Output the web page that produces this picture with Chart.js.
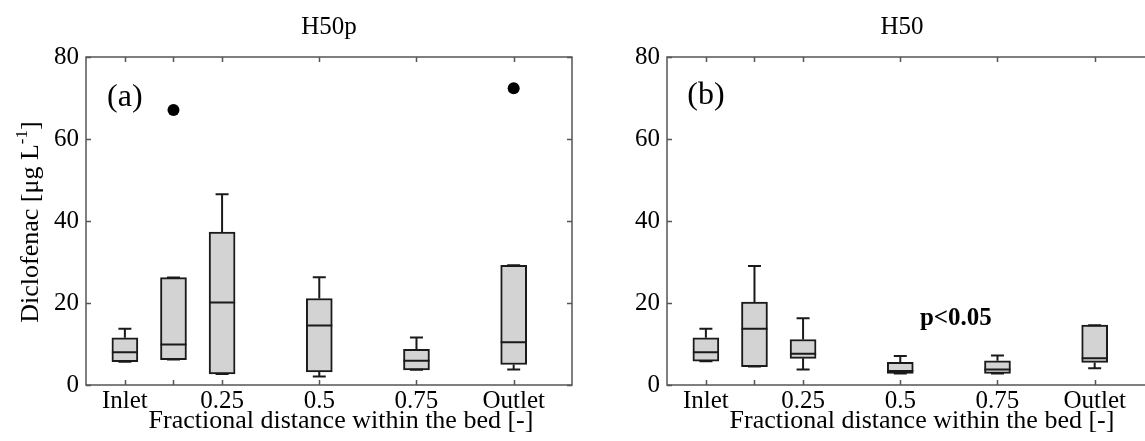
<!DOCTYPE html>
<html>
<head>
<meta charset="utf-8">
<script src="https://cdn.jsdelivr.net/npm/chart.js@4.4.1/dist/chart.umd.min.js"></script>
<style>
  html, body { margin: 0; padding: 0; width: 1145px; height: 441px; overflow: hidden; background: #fff; }
  #wrap { position: relative; width: 1145px; height: 441px; overflow: hidden; }
  canvas { position: absolute; top: 0; }
</style>
</head>
<body>
<div id="wrap">
  <canvas id="chartA" width="600" height="441" style="left:0px"></canvas>
  <canvas id="chartB" width="600" height="441" style="left:580px"></canvas>
</div>
<script>
// ---------- data ----------
const positions   = [0, 0.125, 0.25, 0.5, 0.75, 1];
const xTickLabels = ['Inlet', '', '0.25', '0.5', '0.75', 'Outlet'];
const yTickValues = [0, 20, 40, 60, 80];

// Panel (a) H50p
const lowA  = [5.7, 6.2, 2.7, 2.1, 3.7, 3.8];
const q1A   = [5.7, 6.2, 2.7, 3.2, 3.7, 5.0];
const medA  = [8.0, 9.9, 20.1, 14.5, 5.9, 10.4];
const q3A   = [11.5, 26.2, 37.3, 21.1, 8.7, 29.2];
const highA = [13.7, 26.2, 46.5, 26.3, 11.6, 29.2];
const outX_A = [0.125, 1];
const outY_A = [67.1, 72.4];

// Panel (b) H50
const lowB  = [5.8, 4.5, 3.8, 2.8, 2.8, 4.1];
const q1B   = [5.8, 4.5, 6.5, 2.8, 2.8, 5.5];
const medB  = [8.0, 13.7, 7.6, 3.4, 3.8, 6.5];
const q3B   = [11.5, 20.2, 11.1, 5.5, 5.9, 14.6];
const highB = [13.7, 29.0, 16.3, 7.1, 7.2, 14.6];
const outX_B = [];
const outY_B = [];

const FONT = "'Liberation Serif', 'Times New Roman', serif";
const BOX_W = 26;

const boxExtras = {
  id: 'boxExtras',
  afterDatasetsDraw(chart, args, o) {
    const ctx = chart.ctx, xs = chart.scales.x, ys = chart.scales.y;
    ctx.save();
    ctx.strokeStyle = '#1a1a1a';
    ctx.lineWidth = 2;
    ctx.lineCap = 'butt';
    for (let i = 0; i < positions.length; i++) {
      const px = xs.getPixelForValue(positions[i]);
      const half = BOX_W / 2, cap = BOX_W / 4;
      const yLow = ys.getPixelForValue(o.low[i]), yQ1 = ys.getPixelForValue(o.q1[i]);
      const yMed = ys.getPixelForValue(o.med[i]), yQ3 = ys.getPixelForValue(o.q3[i]);
      const yHigh = ys.getPixelForValue(o.high[i]);
      ctx.beginPath();
      ctx.moveTo(px - half, yMed); ctx.lineTo(px + half, yMed);
      if (o.high[i] > o.q3[i]) { ctx.moveTo(px, yQ3); ctx.lineTo(px, yHigh); }
      ctx.moveTo(px - cap, yHigh); ctx.lineTo(px + cap, yHigh);
      if (o.low[i] < o.q1[i]) { ctx.moveTo(px, yQ1); ctx.lineTo(px, yLow); }
      ctx.moveTo(px - cap, yLow); ctx.lineTo(px + cap, yLow);
      ctx.stroke();
    }
    ctx.restore();
  },
  afterDraw(chart, args, o) {
    const ctx = chart.ctx, xs = chart.scales.x, ys = chart.scales.y, a = chart.chartArea;
    ctx.save();
    ctx.strokeStyle = '#555';
    ctx.lineWidth = 1.5;
    ctx.strokeRect(a.left, a.top, a.right - a.left, a.bottom - a.top);
    const tl = 5;
    ctx.beginPath();
    positions.forEach(v => {
      const px = Math.round(xs.getPixelForValue(v)) + 0.5;
      ctx.moveTo(px, a.bottom); ctx.lineTo(px, a.bottom - tl);
      ctx.moveTo(px, a.top); ctx.lineTo(px, a.top + tl);
    });
    yTickValues.forEach(v => {
      const py = Math.round(ys.getPixelForValue(v)) + 0.5;
      ctx.moveTo(a.left, py); ctx.lineTo(a.left + tl, py);
      ctx.moveTo(a.right, py); ctx.lineTo(a.right - tl, py);
    });
    ctx.stroke();

    ctx.fillStyle = '#000';
    ctx.font = '25px ' + FONT;
    ctx.textAlign = 'center';
    ctx.textBaseline = 'alphabetic';
    ctx.fillText(o.title, o.titleX, 34);
    ctx.font = '26px ' + FONT;
    ctx.fillText('Fractional distance within the bed [-]', o.xTitleX, 428);
    ctx.font = '32px ' + FONT;
    ctx.fillText(o.panel, xs.getPixelForValue(0), a.top + o.panelDy);
    if (o.note) {
      ctx.font = 'bold 25px ' + FONT;
      ctx.fillText(o.note, xs.getPixelForValue(o.noteX), ys.getPixelForValue(o.noteY));
    }
    if (o.yTitle) {
      ctx.translate(29, (a.top + a.bottom) / 2 + 1);
      ctx.rotate(-Math.PI / 2);
      ctx.textAlign = 'left';
      const f1 = '26px ' + FONT, f2 = '17px ' + FONT;
      const p1 = 'Diclofenac [\u03bcg L', p2 = '-1', p3 = ']';
      ctx.font = f1; const w1 = ctx.measureText(p1).width, w3 = ctx.measureText(p3).width;
      ctx.font = f2; const w2 = ctx.measureText(p2).width;
      let x0 = -(w1 + w2 + w3) / 2;
      const base = 9;
      ctx.font = f1; ctx.fillText(p1, x0, base); x0 += w1;
      ctx.font = f2; ctx.fillText(p2, x0, base - 11); x0 += w2;
      ctx.font = f1; ctx.fillText(p3, x0, base);
    }
    ctx.restore();
  }
};

function makeChart(id, cfg) {
  const outliers = cfg.outX.map((x, i) => ({ x: x, y: cfg.outY[i] }));
  return new Chart(document.getElementById(id), {
    type: 'bar',
    data: {
      datasets: [
        {
          type: 'bar',
          data: positions.map((x, i) => ({ x: x, y: [cfg.q1[i], cfg.q3[i]] })),
          backgroundColor: '#d3d3d3',
          borderColor: '#1a1a1a',
          borderWidth: 2,
          borderSkipped: false,
          barThickness: BOX_W,
          order: 2
        },
        {
          type: 'scatter',
          data: outliers,
          pointRadius: 6,
          pointBackgroundColor: '#000',
          pointBorderWidth: 0,
          order: 1
        }
      ]
    },
    options: {
      responsive: false,
      animation: false,
      devicePixelRatio: 1,
      layout: { padding: { top: 57, right: cfg.padRight, left: 0, bottom: 0 } },
      plugins: {
        legend: { display: false },
        tooltip: { enabled: false },
        title: { display: false },
        boxExtras: cfg.extras
      },
      scales: {
        x: {
          type: 'linear',
          min: -0.1, max: 1.15,
          offset: false,
          grid: { display: false, drawTicks: false },
          border: { display: false },
          afterBuildTicks: s => { s.ticks = positions.map(v => ({ value: v })); },
          afterFit: s => { s.height = 441 - 385; },
          ticks: {
            autoSkip: false, maxRotation: 0, padding: 1,
            color: '#000',
            font: { family: FONT, size: 25 },
            callback: (v, i) => xTickLabels[i]
          }
        },
        y: {
          type: 'linear',
          min: 0, max: 80,
          grid: { display: false, drawTicks: false },
          border: { display: false },
          afterBuildTicks: s => { s.ticks = yTickValues.map(v => ({ value: v })); },
          afterFit: s => { s.width = cfg.yWidth; },
          ticks: {
            padding: 7,
            color: '#000',
            font: { family: FONT, size: 25 }
          }
        }
      }
    },
    plugins: [boxExtras]
  });
}

makeChart('chartA', {
  q1: q1A, q3: q3A, outX: outX_A, outY: outY_A,
  padRight: 28, yWidth: 86,
  extras: { low: lowA, q1: q1A, med: medA, q3: q3A, high: highA,
            title: 'H50p', titleX: 329, xTitleX: 341, panel: '(a)', panelDy: 49, yTitle: true }
});
makeChart('chartB', {
  q1: q1B, q3: q3B, outX: outX_B, outY: outY_B,
  padRight: 27, yWidth: 87,
  extras: { low: lowB, q1: q1B, med: medB, q3: q3B, high: highB,
            title: 'H50', titleX: 322, xTitleX: 342, panel: '(b)', panelDy: 47,
            note: 'p<0.05', noteX: 0.643, noteY: 14.6 }
});
</script>
</body>
</html>
